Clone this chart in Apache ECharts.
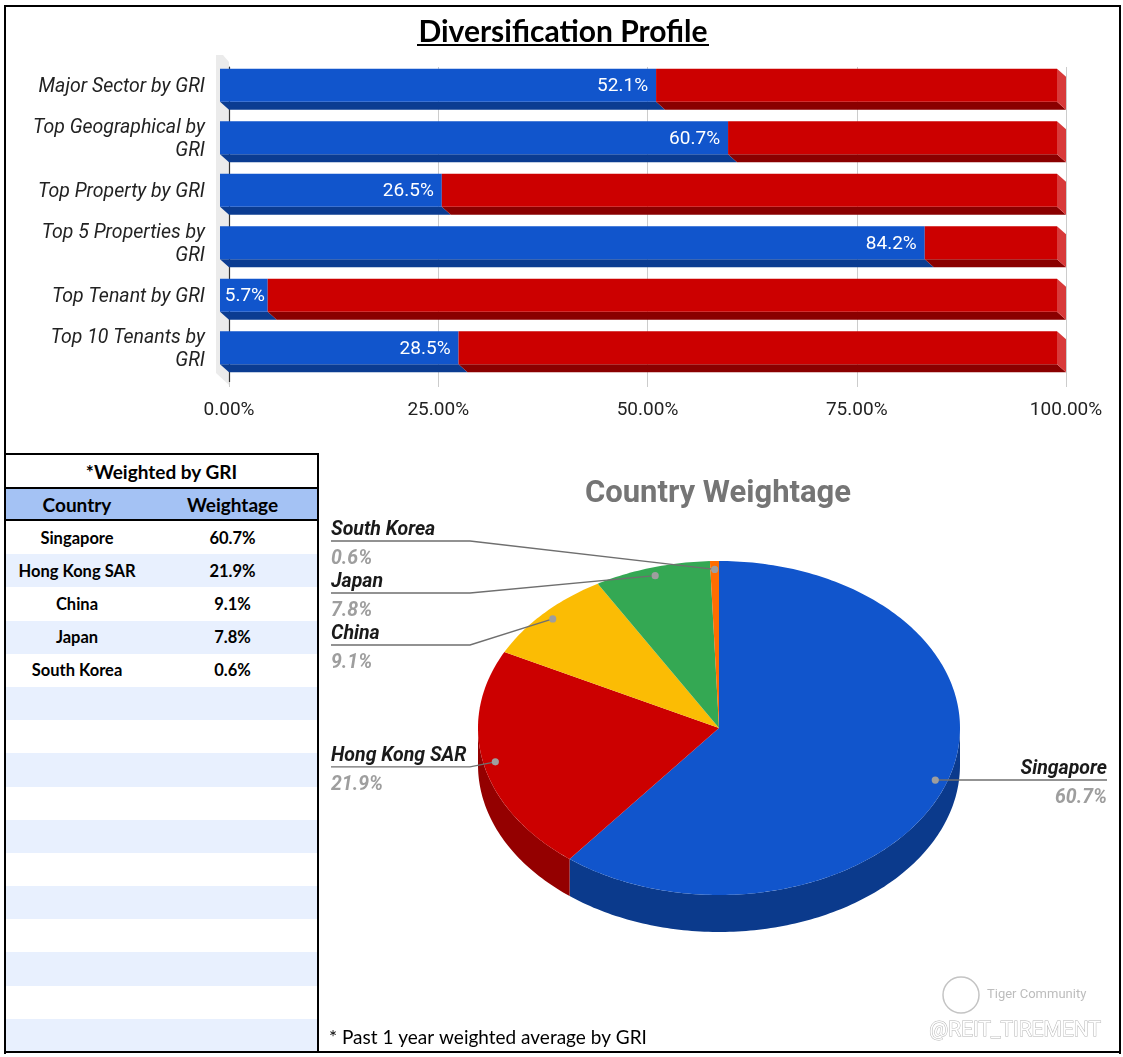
<!DOCTYPE html>
<html>
<head>
<meta charset="utf-8">
<script src="https://cdn.jsdelivr.net/npm/echarts@6/dist/echarts.min.js"></script>
<style>
  html, body { margin: 0; padding: 0; background: #fff; }
  #wrap { position: relative; width: 1123px; height: 1057px; overflow: hidden; }
  #chart { position: absolute; left: 0; top: 0; width: 1123px; height: 1057px; z-index: 2; }
  .rule { position: absolute; background: #000; z-index: 3; }
  #table { position: absolute; left: 6px; top: 455px; width: 311px; z-index: 1;
           font-family: Lato, "Open Sans", sans-serif; font-weight: bold; color: #000; }
  #table .row { display: flex; align-items: center; box-sizing: border-box; }
  #table .c1 { width: 142px; text-align: center; }
  #table .c2 { width: 169px; text-align: center; }
</style>
</head>
<body>
<div id="wrap">
  <div id="table"></div>
  <div id="chart"></div>
  <!-- frame -->
  <div class="rule" style="left:4px;top:5px;width:2px;height:1049px"></div>
  <div class="rule" style="left:4px;top:5px;width:1117px;height:2px"></div>
  <div class="rule" style="left:1119px;top:5px;width:2px;height:1049px"></div>
  <div class="rule" style="left:4px;top:1051px;width:1117px;height:2px"></div>
  <div class="rule" style="left:4px;top:453px;width:315px;height:2px"></div>
  <div class="rule" style="left:317px;top:453px;width:2px;height:600px"></div>
</div>
<script>
// ─── Data ───────────────────────────────────────────────────────────────────
const categories = [
  'Major Sector by GRI',
  'Top Geographical by GRI',
  'Top Property by GRI',
  'Top 5 Properties by GRI',
  'Top Tenant by GRI',
  'Top 10 Tenants by GRI',
];
const shareValues = [52.1, 60.7, 26.5, 84.2, 5.7, 28.5];   // blue part, % of GRI
const axisTicks = [0, 25, 50, 75, 100];

const countries = ['Singapore', 'Hong Kong SAR', 'China', 'Japan', 'South Korea'];
const weights = [60.7, 21.9, 9.1, 7.8, 0.6];

// ─── Colours / layout ───────────────────────────────────────────────────────
const FONT = 'Roboto, sans-serif';
const BLUE = '#1155cc', BLUE_DARK = '#0b3c91';
const RED = '#cc0000', RED_DARK = '#8a0000', RED_SIDE = '#d83a3a';
const DX = 9, DY = 8;   // 3D depth of bars

const PIE_COLORS = ['#1155cc', '#cc0000', '#fbbc04', '#34a853', '#ff6d01'];
const PIE_SIDES  = ['#0b3a8c', '#940000', '#b58800', '#21793a', '#b84d00'];
const PIE = { cx: 719, cy: 728, rx: 241, ry: 167, depth: 37 };
const LABEL = { left: 331, leftBend: 470, right: 1107, rightBend: 960, gap: 52, top: 541 };

// wrap long category names the way the source chart does
const wrapName = v => v.length > 19 ? v.replace(/ GRI$/, '\nGRI') : v;

// ─── Table ──────────────────────────────────────────────────────────────────
(function buildTable() {
  const t = document.getElementById('table');
  let html = '<div class="row" style="height:32px;font-size:19px;justify-content:center">*Weighted by GRI</div>';
  html += '<div style="height:2px;background:#000"></div>';
  html += '<div class="row" style="height:30px;background:#a4c2f4;font-size:19px">' +
          '<div class="c1">Country</div><div class="c2">Weightage</div></div>';
  html += '<div style="height:2px;background:#000"></div>';
  const rowH = (1052 - 521) / 16;
  for (let i = 0; i < 16; i++) {
    const bg = i % 2 ? '#e8f0fe' : '#fff';
    const name = i < countries.length ? countries[i] : '';
    const val = i < weights.length ? weights[i].toFixed(1) + '%' : '';
    html += `<div class="row" style="height:${rowH}px;background:${bg};font-size:16.5px">` +
            `<div class="c1">${name}</div><div class="c2">${val}</div></div>`;
  }
  t.innerHTML = html;
})();

// ─── Bars (3D stacked) ──────────────────────────────────────────────────────
function bar3d(face, bottom, side, withLabel) {
  return function (params, api) {
    const i = api.value(2);
    const p0 = api.coord([api.value(0), i]);
    const p1 = api.coord([api.value(1), i]);
    const h = api.size([0, 1])[1] * 0.63;
    const yt = p0[1] - h / 2, yb = p0[1] + h / 2;
    const fx0 = p0[0] - DX, fx1 = p1[0] - DX, ft = yt - DY, fb = yb - DY;
    const children = [
      { type: 'polygon', shape: { points: [[fx0, fb], [fx1, fb], [p1[0], yb], [p0[0], yb]] },
        style: { fill: bottom } },
      { type: 'rect', shape: { x: fx0, y: ft, width: fx1 - fx0, height: h }, style: { fill: face } },
    ];
    if (side) {
      children.push({ type: 'polygon', shape: { points: [[fx1, ft], [p1[0], yt], [p1[0], yb], [fx1, fb]] },
        style: { fill: side } });
    }
    if (withLabel) {
      children.push({ type: 'text', style: {
        text: api.value(1).toFixed(1) + '%', x: Math.max(fx1 - 8, fx0 + 45), y: (ft + fb) / 2 + 1,
        align: 'right', verticalAlign: 'middle', fill: '#fff',
        fontFamily: FONT, fontSize: 19 } });
      // category name, centred on the front face of the bar
      children.push({ type: 'text', style: {
        text: wrapName(categories[i]), x: p0[0] - 24, y: (ft + fb) / 2 + 2,
        align: 'right', verticalAlign: 'middle', fill: '#222', lineHeight: 23,
        fontFamily: FONT, fontSize: 19.5, fontStyle: 'italic' } });
    }
    return { type: 'group', children };
  };
}

// ─── Pie (3D tilted) ────────────────────────────────────────────────────────
const total = weights.reduce((a, b) => a + b, 0);
const startDeg = [];
(function () { let acc = 0; weights.forEach(w => { startDeg.push(acc / total * 360); acc += w; }); })();
const endDeg = weights.map((w, i) => startDeg[i] + w / total * 360);

function ept(t, dy, k) {
  const a = t * Math.PI / 180;
  return [PIE.cx + PIE.rx * k * Math.sin(a), PIE.cy - PIE.ry * k * Math.cos(a) + dy];
}
function arc(a, b, dy) {
  const pts = [];
  const n = Math.max(2, Math.ceil(b - a));
  for (let j = 0; j <= n; j++) pts.push(ept(a + (b - a) * j / n, dy, 1));
  return pts;
}

// label layout: anchor dot on each slice, then spread overlapping labels
const dots = weights.map((w, i) => ept((startDeg[i] + endDeg[i]) / 2, 0, 0.95));
const labelY = dots.map(d => d[1]);
(function spread() {
  ['L', 'R'].forEach(sideKey => {
    const idx = dots.map((d, i) => i).filter(i => (dots[i][0] < PIE.cx) === (sideKey === 'L'))
                    .sort((a, b) => dots[a][1] - dots[b][1]);
    let groups = idx.map(i => [i]);
    let merged = true;
    const place = g => {
      const mean = g.reduce((s, i) => s + dots[i][1], 0) / g.length;
      let y0 = mean - (g.length - 1) * LABEL.gap / 2;
      g.forEach((i, k) => { labelY[i] = y0 + k * LABEL.gap; });
    };
    groups.forEach(place);
    while (merged) {
      merged = false;
      for (let k = 0; k < groups.length - 1; k++) {
        const a = groups[k], b = groups[k + 1];
        if (labelY[b[0]] - labelY[a[a.length - 1]] < LABEL.gap) {
          groups.splice(k, 2, a.concat(b)); place(groups[k]); merged = true; break;
        }
      }
    }
    // keep first label below the pie title
    if (idx.length && labelY[idx[0]] < LABEL.top) {
      const shift = LABEL.top - labelY[idx[0]];
      idx.forEach(i => { labelY[i] += shift; });
    }
  });
})();

function pieSide(params, api) {
  const i = params.dataIndex;
  const a = Math.max(startDeg[i], 90), b = Math.min(endDeg[i], 270);
  if (a >= b) return null;
  const pts = arc(a, b, 0).concat(arc(a, b, PIE.depth).reverse());
  return { type: 'polygon', shape: { points: pts }, style: { fill: PIE_SIDES[i] } };
}

function pieTop(params, api) {
  const i = params.dataIndex;
  const pts = [[PIE.cx, PIE.cy]].concat(arc(startDeg[i], endDeg[i], 0));
  const d = dots[i], ly = labelY[i];
  const isLeft = d[0] < PIE.cx;
  const lx = isLeft ? LABEL.left : LABEL.right;
  const bx = isLeft ? LABEL.leftBend : LABEL.rightBend;
  const align = isLeft ? 'left' : 'right';
  return { type: 'group', children: [
    { type: 'polygon', shape: { points: pts }, style: { fill: PIE_COLORS[i] } },
    { type: 'polyline', shape: { points: [[lx, ly], [bx, ly], d] },
      style: { stroke: '#6f6f6f', lineWidth: 1.4, fill: null }, z2: 5 },
    { type: 'circle', shape: { cx: d[0], cy: d[1], r: 3.6 }, style: { fill: '#9e9e9e' }, z2: 6 },
    { type: 'text', z2: 6, style: { text: countries[i], x: lx, y: ly - 11, align, verticalAlign: 'middle',
      fill: '#1a1a1a', fontFamily: FONT, fontSize: 19.5, fontWeight: 'bold', fontStyle: 'italic' } },
    { type: 'text', z2: 6, style: { text: api.value(0).toFixed(1) + '%', x: lx, y: ly + 18, align,
      verticalAlign: 'middle', fill: '#9e9e9e', fontFamily: FONT, fontSize: 19.5,
      fontWeight: 'bold', fontStyle: 'italic' } },
  ] };
}

// ─── Chart ──────────────────────────────────────────────────────────────────
const chart = echarts.init(document.getElementById('chart'), null, { renderer: 'canvas' });
chart.setOption({
  animation: false,
  backgroundColor: 'transparent',
  title: [
    { text: 'Diversification Profile', left: 563, top: 17, textAlign: 'center', padding: 0,
      textStyle: { fontFamily: 'Lato, sans-serif', fontWeight: 'bold', fontSize: 30, color: '#000' } },
    { text: 'Country Weightage', left: 718, top: 479, textAlign: 'center', padding: 0,
      textStyle: { fontFamily: FONT, fontWeight: 'bold', fontSize: 31, color: '#757575' } },
  ],
  grid: { left: 229, top: 67, width: 837, height: 315, containLabel: false },
  xAxis: {
    type: 'value', min: axisTicks[0], max: axisTicks[axisTicks.length - 1],
    interval: axisTicks[1] - axisTicks[0],
    axisLine: { show: false },
    axisTick: { show: true, length: 5, lineStyle: { color: '#cccccc' } },
    splitLine: { show: true, lineStyle: { color: '#cccccc', width: 1 } },
    axisLabel: { margin: 19, color: '#222', fontFamily: FONT, fontSize: 19,
                 formatter: v => v.toFixed(2) + '%' },
  },
  yAxis: {
    type: 'category', data: categories, inverse: true,
    axisLine: { show: true, lineStyle: { color: '#333', width: 1.2 } },
    axisTick: { show: false },
    axisLabel: { show: false },
  },
  graphic: [
    // 3D side wall of the bar plot
    { type: 'polygon', z: -1, shape: { points: [[216, 55], [223, 55], [229, 62], [229, 385], [216, 373]] },
      style: { fill: '#ebebeb' } },
    // title underline
    { type: 'rect', shape: { x: 417, y: 44, width: 292, height: 2 }, style: { fill: '#000' } },
    // footnote
    { type: 'text', style: { text: '* Past 1 year weighted average by GRI', x: 329, y: 1038,
      verticalAlign: 'middle', fill: '#000', fontFamily: 'Lato, sans-serif', fontSize: 19 } },
    // watermark
    { type: 'circle', shape: { cx: 961, cy: 995, r: 18 }, style: { fill: null, stroke: '#c4c4c4', lineWidth: 1.5 } },
    { type: 'text', style: { text: 'Tiger Community', x: 987, y: 995, verticalAlign: 'middle',
      fill: '#bdbdbd', fontFamily: FONT, fontSize: 13 } },
    { type: 'text', style: { text: '@REIT_TIREMENT', x: 1101, y: 1031, align: 'right', verticalAlign: 'middle',
      fill: '#fff', stroke: '#b5b5b5', lineWidth: 1, fontFamily: FONT, fontSize: 21 } },
  ],
  series: [
    { type: 'custom', name: 'share', renderItem: bar3d(BLUE, BLUE_DARK, null, true),
      encode: { x: [0, 1], y: 2 }, z: 3,
      data: shareValues.map((v, i) => [0, v, i]) },
    { type: 'custom', name: 'rest', renderItem: bar3d(RED, RED_DARK, RED_SIDE, false),
      encode: { x: [0, 1], y: 2 }, z: 3,
      data: shareValues.map((v, i) => [v, 100, i]) },
    { type: 'custom', name: 'pieSide', coordinateSystem: 'none', renderItem: pieSide, z: 2,
      data: weights.map(w => [w]) },
    { type: 'custom', name: 'pieTop', coordinateSystem: 'none', renderItem: pieTop, z: 4,
      data: weights.map(w => [w]) },
  ],
});
</script>
</body>
</html>
